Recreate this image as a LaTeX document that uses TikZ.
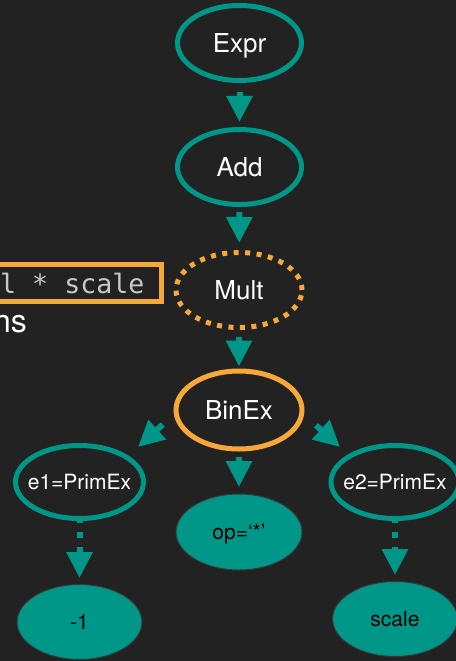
\documentclass[tikz,border=0pt]{standalone}
\usepackage{fontspec}
\setmainfont{TeX Gyre Heros}
\newfontfamily\codefont{DejaVu Sans Mono}
\usetikzlibrary{shapes.geometric,arrows.meta}
\definecolor{bg}{RGB}{34,34,34}
\definecolor{tealc}{RGB}{0,150,136}
\definecolor{orng}{RGB}{247,168,58}
\definecolor{codegray}{RGB}{200,200,200}
\definecolor{rimc}{RGB}{55,55,55}
\newcommand{\lbl}[1]{\makebox[0pt]{\raisebox{-0.5\fontcharht\font`X}[0pt][0pt]{#1}}}
\begin{document}
\begin{tikzpicture}[x=1bp,y=-1bp,
  big/.style={font=\fontsize{26bp}{30bp}\selectfont},
  small/.style={font=\fontsize{21bp}{25bp}\selectfont},
  astnode/.style={ellipse, draw=tealc, line width=5bp, text=white, inner sep=0pt},
  leafnode/.style={ellipse, fill=tealc, draw=rimc, line width=1bp, text=black, inner sep=0pt},
  focusnode/.style={ellipse, draw=orng, line width=5bp, text=white, inner sep=0pt},
  dotnode/.style={ellipse, draw=orng, line width=5bp, dash pattern=on 5bp off 6.5bp, text=white, inner sep=0pt},
  arr/.style={draw=tealc, line width=6bp, -{Triangle[width=25bp,length=26bp]}},
  darr/.style={arr, dash pattern=on 6bp off 9bp}
]
\useasboundingbox (0,0) rectangle (456,661);
\fill[bg] (0,0) rectangle (456,661);

% left fragments
\draw[orng, line width=5bp] (-10,264) rectangle (161.5,301.5);
\node[anchor=base west, inner sep=0pt, text=codegray,
      font=\codefont\fontsize{26.6bp}{30bp}\selectfont] (code) at (0,293) {l * scale};
\node[anchor=base east, inner sep=0pt, text=white,
      font=\fontsize{32bp}{36bp}\selectfont] (ns) at (27,332) {ns};

% nodes
\node[astnode, big, minimum width=124bp, minimum height=75bp] (expr) at (239.5,43) {\lbl{Expr}};
\node[astnode, big, minimum width=124bp, minimum height=75bp] (add) at (239.5,167) {\lbl{Add}};
\node[dotnode, big, minimum width=126bp, minimum height=75bp] (mult) at (239,290) {\lbl{Mult}};
\node[focusnode, big, minimum width=126bp, minimum height=78bp] (binex) at (239,410) {\lbl{BinEx}};
\node[astnode, small, minimum width=128bp, minimum height=73bp] (e1) at (79.5,482) {\lbl{e1=PrimEx}};
\node[astnode, small, minimum width=128bp, minimum height=73bp] (e2) at (395,482) {\lbl{e2=PrimEx}};
\node[leafnode, small, minimum width=126bp, minimum height=76bp] (op) at (239,532) {\lbl{op=‘*’}};
\node[leafnode, small, minimum width=125bp, minimum height=75bp] (m1) at (79.5,622) {\lbl{-1}};
\node[leafnode, small, minimum width=125bp, minimum height=75bp] (scale) at (395,619) {\lbl{scale}};

\coordinate (t1) at (138,447);
\coordinate (t2) at (340,447);

% connectors
\draw[arr, shorten <=9bp, shorten >=5bp] (expr) -- (add);
\draw[arr, shorten <=5bp, shorten >=7bp] (add) -- (mult);
\draw[arr, shorten <=7bp, shorten >=2bp] (mult) -- (binex);
\draw[arr, shorten <=5.5bp, shorten >=6.5bp] (binex) -- (op);
\draw[arr, shorten <=15bp] (binex.184) -- (t1);
\draw[arr, shorten <=16bp] (binex.356) -- (t2);
\draw[darr, shorten <=-4bp, shorten >=6bp] (e1) -- (m1);
\draw[darr, shorten <=-4bp, shorten >=6bp] (e2) -- (scale);
\end{tikzpicture}
\end{document}
